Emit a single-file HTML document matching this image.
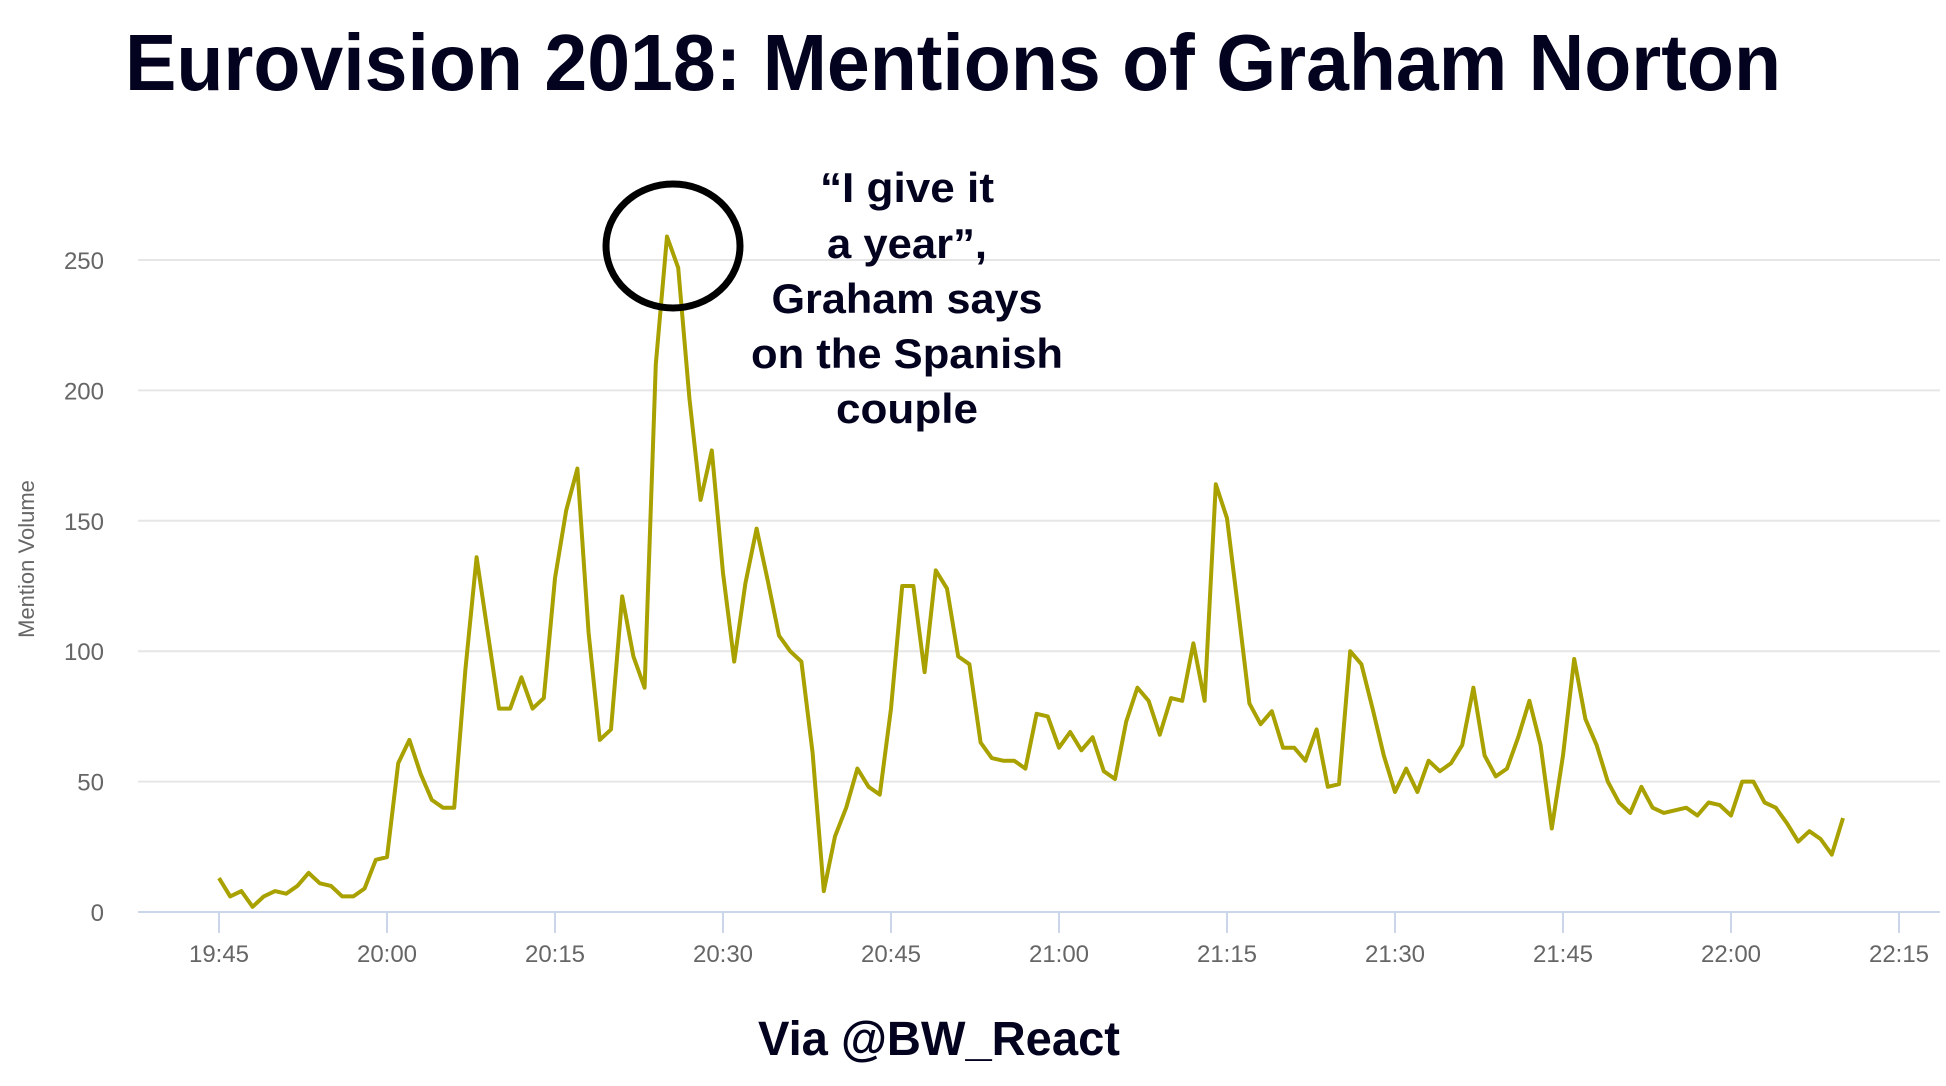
<!DOCTYPE html>
<html><head><meta charset="utf-8"><style>
html,body{margin:0;padding:0;background:#fff;}
svg{display:block;}
</style></head><body>
<svg id="chart" width="1946" height="1086" viewBox="0 0 1946 1086" xmlns="http://www.w3.org/2000/svg" font-family="Liberation Sans, sans-serif">
<text x="125" y="90" font-size="80" font-weight="bold" fill="#03031f" textLength="1656" lengthAdjust="spacingAndGlyphs">Eurovision 2018: Mentions of Graham Norton</text>
<g id="grid"></g>
<g id="yticks"></g>
<g id="xticks"></g>
<text transform="translate(34,559) rotate(-90)" text-anchor="middle" font-size="22" fill="#666">Mention Volume</text>
<g id="series"></g>
<ellipse cx="673" cy="246" rx="67" ry="62" fill="none" stroke="#000" stroke-width="7"/>
<g font-size="42" font-weight="bold" fill="#03031f" text-anchor="middle">
<text x="907" y="202" textLength="174" lengthAdjust="spacingAndGlyphs">“I give it</text>
<text x="907" y="258" textLength="160" lengthAdjust="spacingAndGlyphs">a year”,</text>
<text x="907" y="313" textLength="271" lengthAdjust="spacingAndGlyphs">Graham says</text>
<text x="907" y="368" textLength="312" lengthAdjust="spacingAndGlyphs">on the Spanish</text>
<text x="907" y="423" textLength="142" lengthAdjust="spacingAndGlyphs">couple</text>
</g>
<text x="939" y="1055" text-anchor="middle" font-size="48" font-weight="bold" fill="#03031f" textLength="362" lengthAdjust="spacingAndGlyphs">Via @BW_React</text>
</svg>
<script>
const values = [13,6,8,2,6,8,7,10,15,11,10,6,6,9,20,21,57,66,53,43,40,40,93,136,107,78,78,90,78,82,128,154,170,107,66,70,121,98,86,210,259,247,197,158,177,130,96,126,147,127,106,100,96,61,8,29,40,55,48,45,78,125,125,92,131,124,98,95,65,59,58,58,55,76,75,63,69,62,67,54,51,73,86,81,68,82,81,103,81,164,151,116,80,72,77,63,63,58,70,48,49,100,95,78,60,46,55,46,58,54,57,64,86,60,52,55,67,81,64,32,60,97,74,64,50,42,38,48,40,38,39,40,37,42,41,37,50,50,42,40,34,27,31,28,22,36];
const startMinute = 19*60+45;
const yTicks = [0,50,100,150,200,250];
const xTickLabels = ["19:45","20:00","20:15","20:30","20:45","21:00","21:15","21:30","21:45","22:00","22:15"];
const NS="http://www.w3.org/2000/svg";
const X0=219, PXMIN=11.2, Y0=912, PXU=652/250, LEFT=138, RIGHT=1940;
const xs = m => X0 + (m - startMinute)*PXMIN;
const ys = v => Y0 - v*PXU;
function mk(tag, attrs, parent){const e=document.createElementNS(NS,tag);for(const k in attrs)e.setAttribute(k,attrs[k]);parent.appendChild(e);return e;}
const grid=document.getElementById('grid'), yt=document.getElementById('yticks'), xt=document.getElementById('xticks'), ser=document.getElementById('series');
yTicks.forEach(v=>{
  if(v>0){const l=mk('line',{x1:LEFT,x2:RIGHT,y1:ys(v),y2:ys(v),stroke:'#e6e6e6','stroke-width':2},grid);
  
  }
  const t=mk('text',{x:104,y:ys(v)+9,'text-anchor':'end','font-size':24,fill:'#666'},yt);
  
  
  t.textContent=v;
});
const ax=mk('line',{x1:LEFT,x2:RIGHT,y1:Y0,y2:Y0,stroke:'#ccd6eb','stroke-width':2},xt);


xTickLabels.forEach(s=>{
  const p=s.split(':'); const m=(+p[0])*60+(+p[1]); const x=xs(m);
  const tk=mk('line',{x1:x,x2:x,y1:Y0,y2:Y0+21,stroke:'#ccd6eb','stroke-width':2},xt);
  
  
  const t=mk('text',{x:x,y:Y0+50,'text-anchor':'middle','font-size':24,fill:'#666'},xt);
  
  
  t.textContent=s;
});
const pts=values.map((v,i)=>xs(startMinute+i).toFixed(1)+','+ys(v).toFixed(1)).join(' ');
const pl=mk('polyline',{points:pts,fill:'none',stroke:'#a8a100','stroke-width':4,'stroke-linejoin':'round'},ser);


</script>
</body></html>
